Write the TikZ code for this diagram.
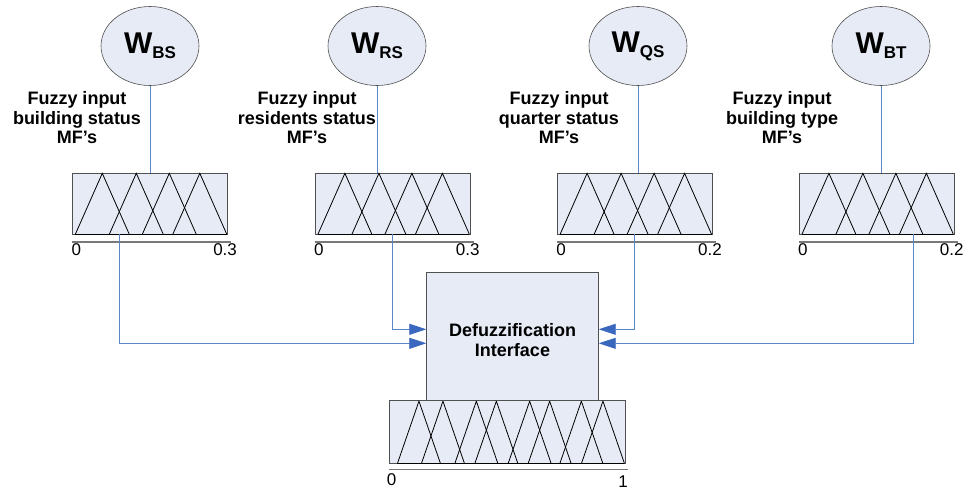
\documentclass[tikz,border=0pt]{standalone}
\usepackage{fontspec}
\setmainfont{Liberation Sans}
\usetikzlibrary{calc,arrows.meta,shapes.geometric}

\definecolor{linkblue}{RGB}{90,135,200}
\definecolor{arrowblue}{RGB}{58,104,190}
\definecolor{panelfill}{RGB}{230,235,246}
\definecolor{edgegray}{RGB}{80,80,80}
\definecolor{axisgray}{RGB}{120,120,120}

% weight symbol: large W with a lowered subscript
\newcommand\wsym[1]{{\fontsize{30}{30}\selectfont W}\raisebox{-5pt}{\fontsize{17}{17}\selectfont #1}}

\tikzset{
  weight/.style={ellipse, draw=edgegray, fill=panelfill, line width=0.6pt,
    minimum width=98pt, minimum height=79pt, inner sep=0pt,
    font=\bfseries},
  mfbox/.style={draw=edgegray, fill=panelfill, line width=0.8pt,
    minimum width=155pt, minimum height=61pt, inner sep=0pt},
  outbox/.style={draw=edgegray, fill=panelfill, line width=0.8pt,
    minimum width=235.7pt, minimum height=62.3pt, inner sep=0pt},
  defuzzbox/.style={draw=edgegray, fill=panelfill, line width=0.8pt,
    minimum width=171.6pt, minimum height=128pt, inner sep=0pt},
  boldtext/.style={align=center, inner sep=0pt,
    font=\bfseries\fontsize{18}{19.5}\selectfont},
  caption/.style={boldtext, anchor=north},
  tick/.style={inner sep=0pt, font=\fontsize{17}{17}\selectfont},
  mfline/.style={draw=black, line width=0.8pt, line join=miter},
  mfbase/.style={draw=black, line width=1.6pt},
  axis/.style={draw=axisgray, line width=1.4pt},
  link/.style={draw=linkblue, line width=0.8pt},
  feed/.style={link, -{Triangle[length=17pt,width=11pt,fill=arrowblue,color=arrowblue]}},
}

\begin{document}
\begin{tikzpicture}[x=1pt, y=-1pt]
\useasboundingbox (0,0) rectangle (963,491);

% weight nodes
\node[weight] (w1) at (150,46) {\wsym{BS}};
\node[weight] (w2) at (377,46) {\wsym{RS}};
\node[weight] (w3) at (638,46) {\wsym{QS}};
\node[weight] (w4) at (881,46) {\wsym{BT}};

% captions of the input membership functions
\node[caption] (c1) at (77,91.4) {Fuzzy input\\building status\\MF’s};
\node[caption] (c2) at (307,91.4) {Fuzzy input\\residents status\\MF’s};
\node[caption] (c3) at (559,91.4) {Fuzzy input\\quarter status\\MF’s};
\node[caption] (c4) at (782,91.4) {Fuzzy input\\building type\\MF’s};

% input membership-function panels
\node[mfbox] (b1) at (150.2,203.4) {};
\node[mfbox] (b2) at (392.8,203.4) {};
\node[mfbox] (b3) at (635.0,203.4) {};
\node[mfbox] (b4) at (876.8,203.4) {};

\foreach \b/\hi in {b1/0.3, b2/0.3, b3/0.2, b4/0.2}{
  \begin{scope}[shift={(\b.south west)}]
    \foreach \p in {30,64,97,127.5}
      \draw[mfline] ({\p-27},0) -- (\p,-61) -- ({\p+27},0);
    \draw[mfbase] (3,0) -- (154.5,0);
  \end{scope}
  \draw[axis] ($(\b.south west)+(0,7.5)$) -- ($(\b.south east)+(3,7.5)$);
  \node[tick, anchor=west] (\b lo) at ($(\b.south west)+(-1,15.5)$) {0};
  \node[tick, anchor=east] (\b hi) at ($(\b.south east)+(9,15.5)$) {\hi};
}

% output panel and defuzzifier
\node[outbox] (out) at (507.2,431.9) {};
\begin{scope}[shift={(out.south west)}]
  \foreach \p in {30,54,87.4,107.4,140.7,160.7,192.4,214}
    \draw[mfline] ({\p-21.5},0) -- (\p,-62.3) -- ({\p+21.5},0);
  \draw[mfbase] (8.5,0) -- (235.5,0);
\end{scope}
\draw[axis] ($(out.south west)+(0,6)$) -- ($(out.south east)+(3,6)$);
\node[tick] (outlo) at (391.5,480) {0};
\node[tick] (outhi) at (623,482) {1};

\node[defuzzbox] (dfz) at (512.5,336.7) {};
\node[boldtext] (dfztext) at (512.5,340.2) {Defuzzification\\Interface};

% links from weights to panels
\draw[link] (w1.south) -- (w1.south |- b1.north);
\draw[link] (w2.south) -- (w2.south |- b2.north);
\draw[link] (w3.south) -- (w3.south |- b3.north);
\draw[link] (w4.south) -- (w4.south |- b4.north);

% links from panels to the defuzzifier
\coordinate (o1) at ($(b1.south west)+(47.3,0)$);
\coordinate (o2) at ($(b2.south west)+(77.7,0)$);
\coordinate (o3) at ($(b3.south west)+(77.7,0)$);
\coordinate (o4) at ($(b4.south west)+(114.7,0)$);
\coordinate (inUL) at ($(dfz.west)+(0,-7.4)$);
\coordinate (inLL) at ($(dfz.west)+(0,6.6)$);
\coordinate (inUR) at ($(dfz.east)+(0,-7.4)$);
\coordinate (inLR) at ($(dfz.east)+(0,6.6)$);
\draw[feed] (o1) |- (inLL);
\draw[feed] (o2) |- (inUL);
\draw[feed] (o3) |- (inUR);
\draw[feed] (o4) |- (inLR);
\end{tikzpicture}
\end{document}
